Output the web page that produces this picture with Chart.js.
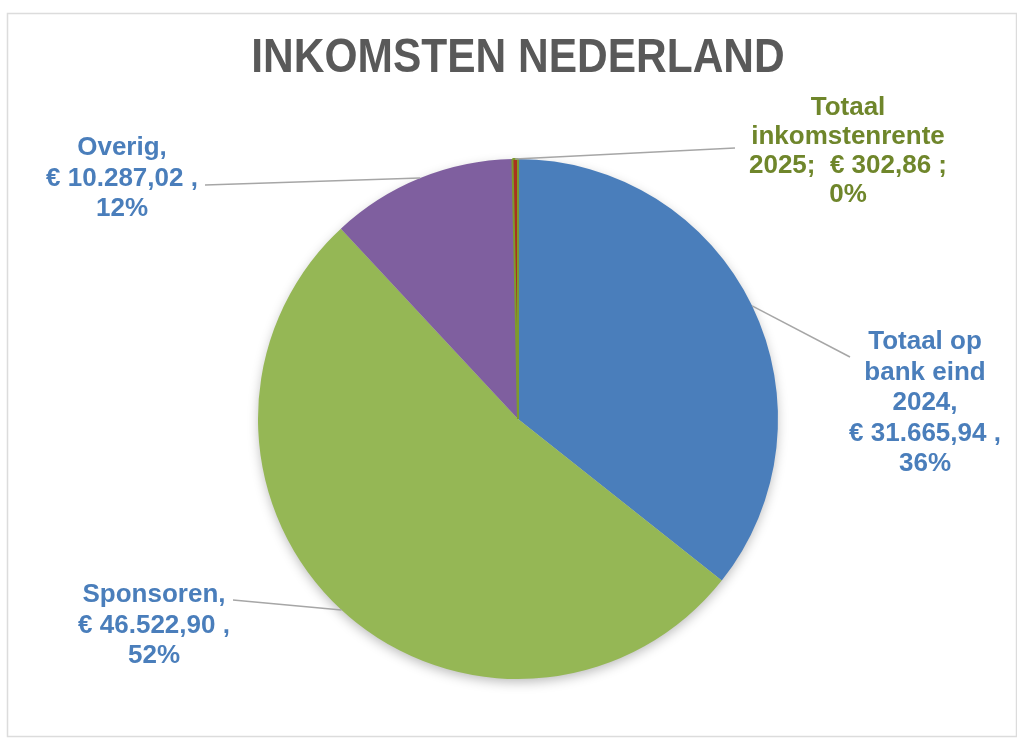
<!DOCTYPE html>
<html>
<head>
<meta charset="utf-8">
<script src="https://cdn.jsdelivr.net/npm/chart.js@4.4.1/dist/chart.umd.min.js"></script>
<style>
html,body{margin:0;padding:0;background:#ffffff;}
#wrap{width:1017px;height:741px;position:relative;}
</style>
</head>
<body>
<div id="wrap"><canvas id="c" width="1017" height="741"></canvas></div>
<script>
// ---- data ----
const chartTitle = "INKOMSTEN NEDERLAND";
const categories = ["Totaal op bank eind 2024", "Sponsoren", "Overig", "Totaal inkomstenrente 2025"];
const values = [31665.94, 46522.90, 10287.02, 302.86];
// label line breaks (text pieces of category names)
const labelNameLines = [["Totaal op", "bank eind", "2024"], ["Sponsoren"], ["Overig"], ["Totaal", "inkomstenrente", "2025"]];
const labelSeparators = [",", ",", ",", ";"];

// ---- styles / layout ----
const sliceColors = ["#4A7EBB", "#95B755", "#7F5F9F", "#A8321F"];
const sliceBorders = ["#ffffff", "#ffffff", "#ffffff", "#7E9A2E"];
const sliceBorderWidths = [0, 0, 0, 2];
const labelColors = ["#4A7EBB", "#4A7EBB", "#4A7EBB", "#6F862B"];
const labelCenters = [[925, 342], [154, 595], [122, 148], [848, 108]];
const leaderEnds = [[850, 357], [233, 600], [205, 185], [735, 148]];
const valueOnSameLine = [false, false, false, true];

function euro(v) {
  const parts = v.toFixed(2).split(".");
  const intPart = parts[0].replace(/\B(?=(\d{3})+(?!\d))/g, ".");
  return "€ " + intPart + "," + parts[1];
}

const total = values.reduce((a, b) => a + b, 0);

function buildLines(i) {
  const name = labelNameLines[i].slice();
  const sep = labelSeparators[i];
  const pct = Math.round(values[i] / total * 100) + "%";
  const val = euro(values[i]) + " " + sep;
  if (valueOnSameLine[i]) {
    name[name.length - 1] = name[name.length - 1] + sep + "  " + val;
  } else {
    name[name.length - 1] = name[name.length - 1] + sep;
    name.push(val);
  }
  name.push(pct);
  return name;
}

const framePlugin = {
  id: "frame",
  beforeDraw(chart) {
    const ctx = chart.ctx;
    ctx.save();
    ctx.fillStyle = "#ffffff";
    ctx.fillRect(0, 0, chart.width, chart.height);
    ctx.strokeStyle = "#dcdcdc";
    ctx.lineWidth = 1.5;
    ctx.strokeRect(7.5, 13.5, 1009, 723);
    // title
    ctx.fillStyle = "#595959";
    ctx.font = "bold 48px 'Liberation Sans', Arial, sans-serif";
    ctx.textAlign = "center";
    ctx.textBaseline = "middle";
    ctx.translate(518, 59);
    ctx.scale(0.885, 1);
    ctx.fillText(chartTitle, 0, 0);
    ctx.restore();
  },
  beforeDatasetsDraw(chart) {
    const meta = chart.getDatasetMeta(0);
    const a = meta.data[0];
    if (!a) return;
    const ctx = chart.ctx;
    ctx.save();
    ctx.shadowColor = "rgba(0,0,0,0.28)";
    ctx.shadowBlur = 12;
    ctx.shadowOffsetY = 4;
    ctx.fillStyle = "#cfcfcf";
    ctx.beginPath();
    ctx.arc(a.x, a.y, a.outerRadius - 1, 0, Math.PI * 2);
    ctx.fill();
    ctx.restore();
  },
  afterDatasetsDraw(chart) {
    const meta = chart.getDatasetMeta(0);
    const ctx = chart.ctx;
    ctx.save();
    meta.data.forEach((arc, i) => {
      const mid = (arc.startAngle + arc.endAngle) / 2;
      const sx = arc.x + Math.cos(mid) * arc.outerRadius;
      const sy = arc.y + Math.sin(mid) * arc.outerRadius;
      const [ex, ey] = leaderEnds[i];
      ctx.strokeStyle = "#a6a6a6";
      ctx.lineWidth = 1.5;
      ctx.beginPath();
      ctx.moveTo(sx, sy);
      ctx.lineTo(ex, ey);
      ctx.stroke();
      // label
      const lines = buildLines(i);
      const [cx, cy] = labelCenters[i];
      ctx.fillStyle = labelColors[i];
      ctx.font = "bold 26px 'Liberation Sans', Arial, sans-serif";
      ctx.textAlign = "center";
      ctx.textBaseline = "middle";
      const lh = i === 3 ? 29 : 30.5;
      lines.forEach((ln, k) => ctx.fillText(ln, cx, cy + k * lh));
    });
    ctx.restore();
  }
};

new Chart(document.getElementById("c"), {
  type: "pie",
  data: {
    labels: categories,
    datasets: [{
      data: values,
      backgroundColor: sliceColors,
      borderColor: sliceBorders,
      borderWidth: sliceBorderWidths
    }]
  },
  options: {
    responsive: false,
    animation: false,
    layout: { padding: { left: 257, right: 238, top: 158, bottom: 61 } },
    plugins: {
      legend: { display: false },
      tooltip: { enabled: false },
      title: { display: false }
    }
  },
  plugins: [framePlugin]
});
</script>
</body>
</html>
